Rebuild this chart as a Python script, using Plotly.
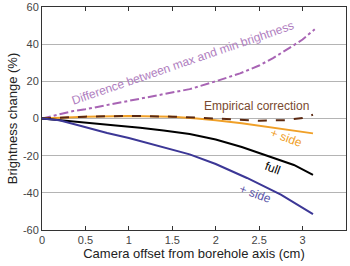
import plotly.graph_objects as go

# Data
x_diff = [0, 0.36, 0.5, 1.0, 1.13, 1.5, 1.7, 2.0, 2.28, 2.5, 2.66, 2.85, 3.0, 3.05, 3.14]
y_diff = [0, 4.0, 5.0, 9.5, 10.8, 13.8, 15.8, 20.0, 24.3, 28.5, 32.5, 38.0, 42.5, 44.5, 48]

x_full = [0, 0.3, 0.55, 0.85, 1.13, 1.4, 1.7, 2.0, 2.3, 2.6, 2.9, 3.12]
y_full = [0, -1.2, -2.5, -3.7, -5.0, -6.4, -8.4, -11.3, -15.3, -20.0, -25.0, -30.3]

x_plus = [0, 0.2, 0.45, 0.75, 1.0, 1.2, 1.45, 1.7, 2.0, 2.36, 2.75, 3.12]
y_plus = [0, -1.0, -4.0, -7.8, -10.5, -12.9, -15.9, -19.3, -24.5, -32.0, -41.0, -51.5]

x_minus = [0, 0.5, 1.0, 1.5, 1.75, 2.0, 2.3, 2.66, 3.12]
y_minus = [0, 1.0, 1.4, 1.0, 0.1, -0.9, -2.6, -5.0, -8.0]

x_emp = [0, 0.5, 1.0, 1.5, 2.0, 2.5, 2.8, 3.0, 3.12]
y_emp = [0, 1.0, 1.4, 1.0, 0.0, -1.2, -0.9, 0.3, 2.0]

x_ticks = [0, 0.5, 1, 1.5, 2, 2.5, 3, 3.5]
x_ticklabels = ["0", "0.5", "1", "1.5", "2", "2.5", "3", "3.5"]
y_ticks = [-60, -40, -20, 0, 20, 40, 60]
y_ticklabels = ["-60", "-40", "-20", "0", "20", "40", "60"]

PURPLE = "#a864b4"
BLUE = "#3c3796"
ORANGE = "#f0a028"
BROWN = "#5a2810"

fig = go.Figure()
fig.add_trace(go.Scatter(x=x_diff, y=y_diff, mode="lines",
                         line=dict(color=PURPLE, width=2, dash="dashdot"), hoverinfo="skip"))
fig.add_trace(go.Scatter(x=x_minus, y=y_minus, mode="lines",
                         line=dict(color=ORANGE, width=2), hoverinfo="skip"))
fig.add_trace(go.Scatter(x=x_emp, y=y_emp, mode="lines",
                         line=dict(color=BROWN, width=2, dash="dash"), hoverinfo="skip"))
fig.add_trace(go.Scatter(x=x_full, y=y_full, mode="lines",
                         line=dict(color="black", width=2), hoverinfo="skip"))
fig.add_trace(go.Scatter(x=x_plus, y=y_plus, mode="lines",
                         line=dict(color=BLUE, width=2), hoverinfo="skip"))

font_fam = "Liberation Sans, Arial, sans-serif"
ann = [
    dict(x=1.62, y=29.7, text="Difference between max and min brightness", textangle=-19,
         font=dict(color="#b07ec0", size=12)),
    dict(x=2.47, y=6.5, text="Empirical correction", textangle=0,
         font=dict(color="#7a4a30", size=12)),
    dict(x=2.82, y=-10.3, text="+ side", textangle=20, font=dict(color=ORANGE, size=12)),
    dict(x=2.65, y=-26.5, text="full", textangle=20, font=dict(color="black", size=12)),
    dict(x=2.46, y=-40.5, text="+ side", textangle=20, font=dict(color="#5a55a8", size=12)),
]
for a in ann:
    fig.add_annotation(xref="x", yref="y", showarrow=False, **a)

fig.update_layout(
    width=350, height=266,
    margin=dict(l=42, r=4, t=7, b=36),
    paper_bgcolor="white", plot_bgcolor="white",
    showlegend=False,
    font=dict(family=font_fam, size=11, color="#333333"),
)
fig.update_xaxes(
    range=[0, 3.5], tickvals=x_ticks, ticktext=x_ticklabels,
    ticks="inside", ticklen=4, tickcolor="#333333", mirror="ticks",
    showline=True, linecolor="#333333", linewidth=1, showgrid=False, zeroline=False,
    automargin=False,
    title=dict(text="Camera offset from borehole axis (cm)", font=dict(size=13, color="#222222"), standoff=2),
    tickfont=dict(size=11, color="#444444"),
)
fig.update_yaxes(
    range=[-60, 60], tickvals=y_ticks, ticktext=y_ticklabels,
    ticks="", mirror=True,
    showline=True, linecolor="#333333", linewidth=1,
    showgrid=True, gridcolor="#b4b4b4", gridwidth=1, zeroline=False,
    automargin=False,
    title=dict(text="Brightness change (%)", font=dict(size=13, color="#222222"), standoff=2),
    tickfont=dict(size=11, color="#444444"),
)

fig.write_html("out.html", config={"displayModeBar": False},
               post_script="document.body.style.margin='0';document.body.style.overflow='hidden';")
